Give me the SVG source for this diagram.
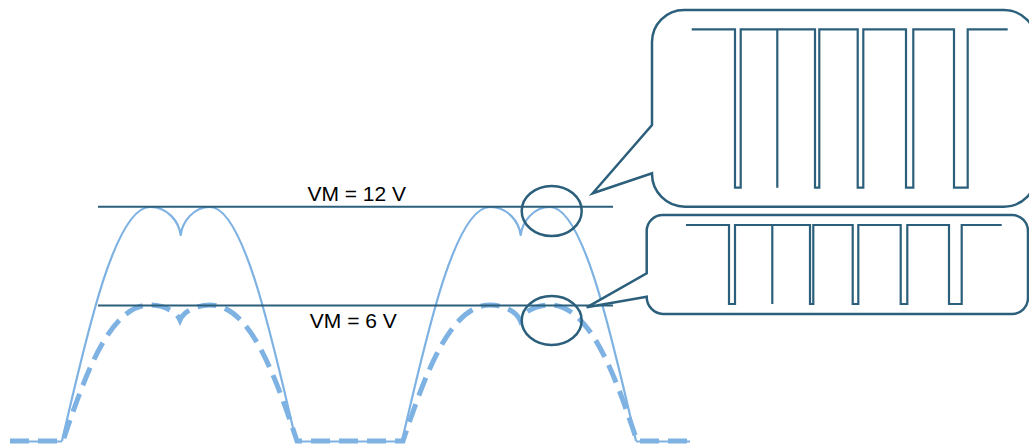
<svg xmlns="http://www.w3.org/2000/svg" width="1029" height="444" viewBox="0 0 1029 444">
<style>
.wave{fill:none;stroke:#7EB2E2;stroke-width:2.2;stroke-linejoin:round}
.dash{fill:none;stroke:#7EB2E2;stroke-width:5;stroke-dasharray:19 9}
.dark{fill:none;stroke:#2B5F7B;stroke-width:2}
.call{fill:#fff;stroke:#2B5F7B;stroke-width:2.5;stroke-linejoin:miter}
.pwm{fill:none;stroke:#2B5F7B;stroke-width:2.2}
.lbl{font-family:"Liberation Sans",Arial,sans-serif;font-size:21px;fill:#000;text-anchor:middle}
</style>
<defs>
<path id="solidPulse" d="M62,441 C87,333 115,207 150,207 C168,207 179,222 180.7,235 C182.4,222 193,207 210,207 C243,207 271,333 296,441"/>
</defs>
<g id="waveforms">
<path class="wave" d="M10,441.5 H62 M296,441.5 H402 M636,441.5 H690"/>
<use href="#solidPulse" class="wave"/>
<use href="#solidPulse" class="wave" transform="translate(340,0)"/>
<path class="dash" d="M10,441 H63 C85,375 110,305 150,305 C163,305 176,311 180,320 C184,311 197,305 210,305 C250,305 275,375 297,441 H403 C425,375 450,305 490,305 C503,305 516,311 520,320 C524,311 537,305 550,305 C590,305 615,375 637,441 H690"/>
</g>
<g id="levels">
<line class="dark" x1="98" y1="206.7" x2="613" y2="206.7"/>
<line class="dark" x1="98" y1="305.5" x2="613" y2="305.5"/>
<text class="lbl" x="356.7" y="200.5">VM = 12 V</text>
<text class="lbl" x="353.3" y="328.3">VM = 6 V</text>
</g>
<g id="markers">
<ellipse class="dark" cx="551.7" cy="211" rx="30" ry="25" style="stroke-width:2.5"/>
<ellipse class="dark" cx="551.7" cy="320.5" rx="30" ry="24.5" style="stroke-width:2.5"/>
</g>
<g id="callout-12V">
<path class="call" d="M684,10 H1004 A32,32 0 0 1 1036,42 V174.7 A32,32 0 0 1 1004,206.7 H685 A33,33 0 0 1 652,173.3 L592.7,193.3 L652,125 V42 A32,32 0 0 1 684,10 Z"/>
<path class="pwm" d="M691.7,29.3 H735 V187.7 H740.7 V29.3 H777.3 V187.7 V29.3 H815 V187.7 H819.3 V29.3 H857.7 V187.7 H863.3 V29.3 H906 V187.7 H913.3 V29.3 H954 V187.7 H967.7 V29.3 H1007.7"/>
</g>
<g id="callout-6V">
<path class="call" d="M663,215 H1012 A16,16 0 0 1 1028,231 V298 A16,16 0 0 1 1012,314 H663 A17,17 0 0 1 646.7,296.7 L586.7,307.3 L646.7,273.3 V231 A16,16 0 0 1 663,215 Z"/>
<path class="pwm" d="M686,225 H729 V304 H735 V225 H772.3 V304 V225 H810 V304 H813.3 V225 H852.7 V304 H858.3 V225 H900.7 V304 H907.3 V225 H949 V304 H961.7 V225 H1001.7"/>
</g>
</svg>
